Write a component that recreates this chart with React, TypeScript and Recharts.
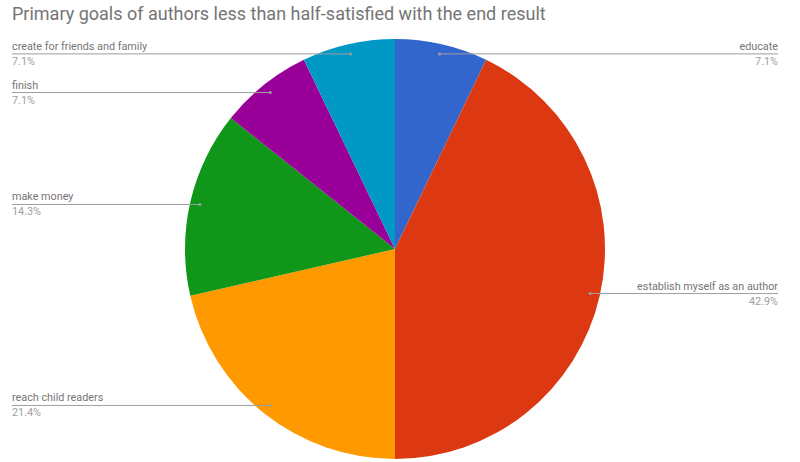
import { Pie, PieChart, Cell } from "recharts";

const categories = [
  "educate",
  "establish myself as an author",
  "reach child readers",
  "make money",
  "finish",
  "create for friends and family",
];
const counts = [1, 6, 3, 2, 1, 1];
const percentLabels = ["7.1%", "42.9%", "21.4%", "14.3%", "7.1%", "7.1%"];
const colors = ["#3366cc", "#dc3912", "#ff9900", "#109618", "#990099", "#0099c6"];

const data = categories.map((name, i) => ({
  name,
  value: counts[i],
  pct: percentLabels[i],
}));

const RAD = Math.PI / 180;
const LEFT_X = 12;
const RIGHT_X = 778;

function renderLabel(props: any) {
  const { cx, cy, midAngle, outerRadius, index } = props;
  const r = outerRadius * 0.953;
  const x = cx + r * Math.cos(-midAngle * RAD);
  const y = cy + r * Math.sin(-midAngle * RAD);
  const right = x > cx;
  const endX = right ? RIGHT_X : LEFT_X;
  const anchor = right ? "end" : "start";
  return (
    <g key={`lbl-${index}`}>
      <line x1={x} y1={y} x2={endX} y2={y} stroke="#9e9e9e" strokeWidth={1} />
      <circle cx={x} cy={y} r={1.5} fill="#9e9e9e" />
      <text
        x={endX}
        y={y - 4}
        textAnchor={anchor}
        fontSize={10.8}
        fontFamily="Roboto"
        fill="#757575"
      >
        {data[index].name}
      </text>
      <text
        x={endX}
        y={y + 11}
        textAnchor={anchor}
        fontSize={10.8}
        fontFamily="Roboto"
        fill="#9e9e9e"
      >
        {data[index].pct}
      </text>
    </g>
  );
}

export default function App() {
  return (
    <div
      style={{
        position: "absolute",
        left: 0,
        top: 0,
        width: 800,
        height: 462,
        background: "#fff",
      }}
    >
      <div
        style={{
          position: "absolute",
          left: 12,
          top: 3,
          fontFamily: "Roboto",
          fontSize: 18,
          color: "#757575",
          whiteSpace: "nowrap",
        }}
      >
        Primary goals of authors less than half-satisfied with the end result
      </div>
      <PieChart width={800} height={462} margin={{ top: 0, right: 0, bottom: 0, left: 0 }}>
        <Pie
          data={data}
          dataKey="value"
          nameKey="name"
          cx={395}
          cy={249}
          outerRadius={210}
          startAngle={90}
          endAngle={-270}
          stroke="none"
          label={renderLabel}
          labelLine={false}
          isAnimationActive={false}
        >
          {data.map((d, i) => (
            <Cell key={d.name} fill={colors[i]} />
          ))}
        </Pie>
      </PieChart>
    </div>
  );
}
